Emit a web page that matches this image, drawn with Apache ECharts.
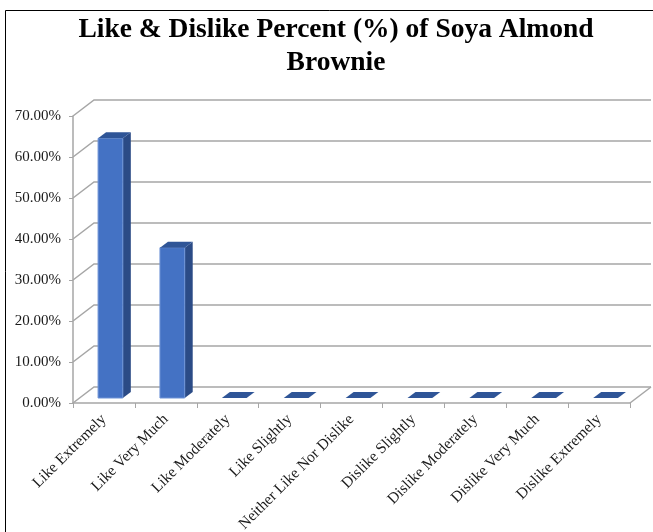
<!DOCTYPE html>
<html>
<head>
<meta charset="utf-8">
<style>
  html, body { margin: 0; padding: 0; background: #ffffff; }
  #chart { width: 653px; height: 532px; }
</style>
<script src="https://cdn.jsdelivr.net/npm/echarts@6/dist/echarts.min.js"></script>
</head>
<body>
<div id="chart"></div>
<script>
// Hedonic rating categories and the share of panellists for each
const categories = [
  'Like Extremely', 'Like Very Much', 'Like Moderately', 'Like Slightly',
  'Neither Like Nor Dislike', 'Dislike Slightly', 'Dislike Moderately',
  'Dislike Very Much', 'Dislike Extremely'
];
const percentValues = [0.6333, 0.3667, 0, 0, 0, 0, 0, 0, 0];
const yTicks = [0, 0.1, 0.2, 0.3, 0.4, 0.5, 0.6, 0.7];

const titleText = 'Like & Dislike Percent (%) of Soya Almond\nBrownie';

// pseudo-3D geometry (pixels)
const DEPTH = [21, -16];       // front plane -> back wall
const BAR_OFF = [6.5, -5];     // front plane -> bar front face
const BAR_DEPTH = [8, -6];     // bar thickness
const GRID_COLOR = '#A6A6A6';
const SERIF = '"Liberation Serif", "Times New Roman", serif';

const chart = echarts.init(document.getElementById('chart'), null, { renderer: 'canvas' });

function renderWall(params, api) {
  const cs = params.coordSys;
  const p = api.coord([0, api.value(1)]);
  const x0 = cs.x, x1 = cs.x + cs.width, y = p[1];
  const children = [{
    type: 'polyline',
    shape: { points: [[x0, y], [x0 + DEPTH[0], y + DEPTH[1]], [x1 + DEPTH[0], y + DEPTH[1]]] },
    style: { stroke: GRID_COLOR, lineWidth: 1.5, fill: null }
  }];
  if (api.value(1) === 0) {
    children.push({
      type: 'line',
      shape: { x1: x1, y1: y, x2: x1 + DEPTH[0], y2: y + DEPTH[1] },
      style: { stroke: GRID_COLOR, lineWidth: 1.5 }
    });
  }
  return { type: 'group', children: children };
}

function renderBar(params, api) {
  const idx = api.value(0);
  const top = api.coord([idx, api.value(1)]);
  const base = api.coord([idx, 0]);
  const bw = api.size([1, 0])[0];
  const w = bw * 0.4;
  const x = top[0] - w / 2 + BAR_OFF[0];
  const yT = top[1] + BAR_OFF[1];
  const yB = base[1] + BAR_OFF[1];
  const dx = BAR_DEPTH[0], dy = BAR_DEPTH[1];
  const children = [];
  if (yB - yT > 0.5) {
    children.push({
      type: 'polygon',
      shape: { points: [[x + w, yT], [x + w + dx, yT + dy], [x + w + dx, yB + dy], [x + w, yB]] },
      style: { fill: '#2B4B86' }
    });
    children.push({
      type: 'rect',
      shape: { x: x, y: yT, width: w, height: yB - yT },
      style: { fill: '#4472C4', stroke: '#6E93D6', lineWidth: 1 }
    });
  }
  children.push({
    type: 'polygon',
    shape: { points: [[x, yT], [x + dx, yT + dy], [x + w + dx, yT + dy], [x + w, yT]] },
    style: { fill: '#2F5597' }
  });
  return { type: 'group', children: children };
}

chart.setOption({
  backgroundColor: '#ffffff',
  animation: false,
  grid: {
    left: 73, right: 23, top: 116, bottom: 129,
    containLabel: false, outerBoundsMode: 'none'
  },
  xAxis: {
    type: 'category',
    data: categories,
    boundaryGap: true,
    axisLine: { show: true, lineStyle: { color: GRID_COLOR, width: 1.5 } },
    axisTick: { show: true, length: 5, alignWithLabel: false, lineStyle: { color: GRID_COLOR, width: 1 } },
    axisLabel: {
      rotate: 45, interval: 0, margin: 14,
      fontFamily: SERIF, fontSize: 15.5, color: '#1a1a1a'
    },
    splitLine: { show: false }
  },
  yAxis: {
    type: 'value',
    min: 0, max: 0.7, interval: 0.1,
    axisLine: { show: true, lineStyle: { color: GRID_COLOR, width: 1.5 } },
    axisTick: { show: true, inside: false, length: 4, lineStyle: { color: GRID_COLOR, width: 1 } },
    axisLabel: {
      margin: 12,
      fontFamily: SERIF, fontSize: 15, color: '#1a1a1a',
      formatter: v => (v * 100).toFixed(2) + '%'
    },
    splitLine: { show: false }
  },
  series: [
    {
      type: 'custom',
      name: 'walls',
      renderItem: renderWall,
      data: yTicks.map(t => [0, t]),
      z: 1, silent: true, clip: false
    },
    {
      type: 'custom',
      name: 'Percent',
      renderItem: renderBar,
      data: percentValues.map((v, i) => [i, v]),
      z: 3, clip: false
    }
  ],
  graphic: [
    {
      type: 'rect', z: 0, silent: true,
      shape: { x: 5.5, y: 10.5, width: 700, height: 600 },
      style: { fill: null, stroke: '#000000', lineWidth: 1 }
    },
    {
      type: 'text', z: 10,
      x: 336, y: 13,
      style: {
        text: titleText,
        fontFamily: SERIF, fontSize: 27.5, fontWeight: 'bold',
        lineHeight: 33, fill: '#000000',
        align: 'center', verticalAlign: 'top'
      }
    }
  ]
});
</script>
</body>
</html>
